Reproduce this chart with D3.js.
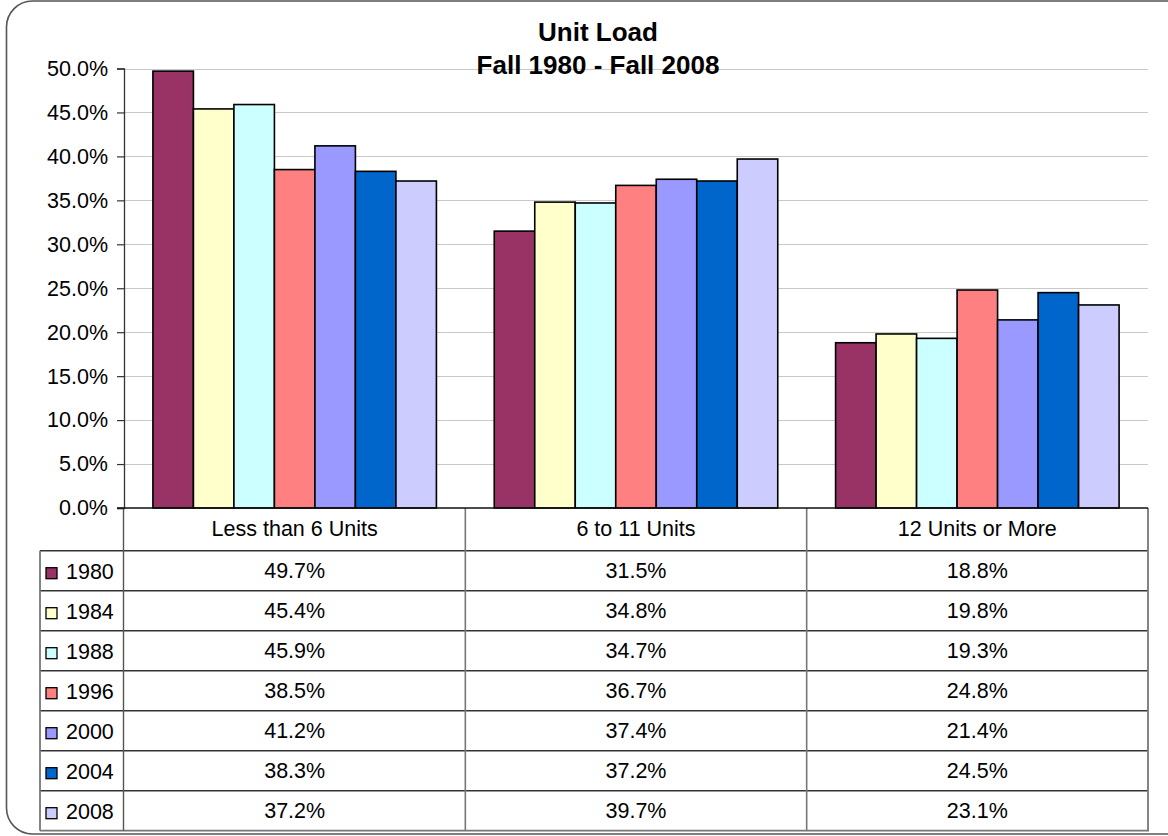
<!DOCTYPE html>
<html>
<head>
<meta charset="utf-8">
<script src="https://cdn.jsdelivr.net/npm/d3@7"></script>
<style>
  html, body { margin: 0; padding: 0; background: #fff; }
  svg { display: block; font-family: "Liberation Sans", Arial, Helvetica, sans-serif; }
</style>
</head>
<body>
<svg id="chart" width="1168" height="836"></svg>
<script>
// ---- data ----
const categories = ["Less than 6 Units", "6 to 11 Units", "12 Units or More"];
const years = ["1980", "1984", "1988", "1996", "2000", "2004", "2008"];
const values1980 = [49.7, 31.5, 18.8];
const values1984 = [45.4, 34.8, 19.8];
const values1988 = [45.9, 34.7, 19.3];
const values1996 = [38.5, 36.7, 24.8];
const values2000 = [41.2, 37.4, 21.4];
const values2004 = [38.3, 37.2, 24.5];
const values2008 = [37.2, 39.7, 23.1];
const yTicks = [0, 5, 10, 15, 20, 25, 30, 35, 40, 45, 50];
const titleLines = ["Unit Load", "Fall 1980 - Fall 2008"];
const colors = ["#993366", "#FFFFCC", "#CCFFFF", "#FF8080", "#9999FF", "#0066CC", "#CCCCFF"];

const seriesValues = [values1980, values1984, values1988, values1996, values2000, values2004, values2008];
const series = years.map((y, i) => ({ year: y, color: colors[i], values: seriesValues[i] }));

// ---- layout ----
const svg = d3.select("#chart");
const plotL = 124, plotR = 1148, plotT = 68.5, plotB = 508;
const tableL = 40, tableB = 830.7, headerB = 550.7;
const fontSize = 21.5;

// outer rounded border
svg.append("rect")
  .attr("x", 6.5).attr("y", 1).attr("width", 1200).attr("height", 833)
  .attr("rx", 26).attr("ry", 26)
  .attr("fill", "#fff").attr("stroke", "#555").attr("stroke-width", 1.6);

const y = d3.scaleLinear().domain([0, 50]).range([plotB, plotT]);
const x0 = d3.scaleBand().domain(categories).range([plotL, plotR]).paddingInner(0).paddingOuter(0);
const x1 = d3.scaleBand().domain(years).range([0, x0.bandwidth()]).paddingInner(0).paddingOuter(0.714);

// gridlines
svg.append("g").selectAll("line").data(yTicks.filter(t => t > 0)).join("line")
  .attr("x1", plotL).attr("x2", plotR)
  .attr("y1", d => Math.round(y(d)) + 0.5).attr("y2", d => Math.round(y(d)) + 0.5)
  .attr("stroke", "#c8c8c8").attr("stroke-width", 1);

// y axis
const yAxis = d3.axisLeft(y).tickValues(yTicks).tickSize(7).tickPadding(9)
  .tickFormat(d => d.toFixed(1) + "%");
const yg = svg.append("g").attr("transform", `translate(${plotL},0)`).call(yAxis);
yg.select(".domain").attr("stroke", "#333").attr("stroke-width", 1.3);
yg.selectAll(".tick line").attr("stroke", "#333").attr("stroke-width", 1.2);
yg.selectAll(".tick text").attr("font-size", fontSize).attr("fill", "#000")
  .attr("font-family", "Liberation Sans, Arial, sans-serif");

// bars
const groups = svg.append("g").selectAll("g").data(categories).join("g")
  .attr("transform", d => `translate(${x0(d)},0)`);
groups.selectAll("rect").data((c, ci) => series.map(s => ({ year: s.year, color: s.color, v: s.values[ci] })))
  .join("rect")
  .attr("x", d => x1(d.year))
  .attr("y", d => y(d.v))
  .attr("width", x1.bandwidth())
  .attr("height", d => plotB - y(d.v))
  .attr("fill", d => d.color)
  .attr("stroke", "#000").attr("stroke-width", 1.6);

// title
svg.append("g").selectAll("text").data(titleLines).join("text")
  .attr("x", 598).attr("y", (d, i) => 41 + i * 33)
  .attr("text-anchor", "middle").attr("font-weight", "bold").attr("font-size", 26)
  .attr("fill", "#000").text(d => d);

// ---- data table ----
const rowY = d3.scaleBand().domain(years).range([headerB, tableB]);
const tg = svg.append("g");

// horizontal row lines
tg.selectAll("line.row").data(years.slice(1)).join("line")
  .attr("x1", tableL).attr("x2", plotR)
  .attr("y1", d => rowY(d)).attr("y2", d => rowY(d))
  .attr("stroke", "#333").attr("stroke-width", 1.4);
tg.append("line").attr("x1", tableL).attr("x2", plotR).attr("y1", headerB).attr("y2", headerB)
  .attr("stroke", "#333").attr("stroke-width", 1.4);
// bottom border
tg.append("line").attr("x1", tableL).attr("x2", plotR + 1).attr("y1", tableB).attr("y2", tableB)
  .attr("stroke", "#777").attr("stroke-width", 1.8);
// left border
tg.append("line").attr("x1", tableL).attr("x2", tableL).attr("y1", headerB).attr("y2", tableB)
  .attr("stroke", "#777").attr("stroke-width", 1.8);
// right border
tg.append("line").attr("x1", plotR).attr("x2", plotR).attr("y1", plotB).attr("y2", tableB)
  .attr("stroke", "#777").attr("stroke-width", 1.8);
// column separators
const sepX = categories.slice(1).map(c => x0(c));
tg.selectAll("line.sep").data(sepX).join("line")
  .attr("x1", d => d).attr("x2", d => d).attr("y1", plotB).attr("y2", tableB)
  .attr("stroke", "#777").attr("stroke-width", 1.6);
tg.append("line").attr("x1", plotL - 0.5).attr("x2", plotL - 0.5).attr("y1", plotB).attr("y2", tableB)
  .attr("stroke", "#555").attr("stroke-width", 1.4);

// x axis line
svg.append("line").attr("x1", plotL - 7).attr("x2", plotR).attr("y1", plotB).attr("y2", plotB)
  .attr("stroke", "#111").attr("stroke-width", 1.6);

// category header
tg.selectAll("text.cat").data(categories).join("text")
  .attr("x", d => x0(d) + x0.bandwidth() / 2)
  .attr("y", (plotB + headerB) / 2 + 7)
  .attr("text-anchor", "middle").attr("font-size", fontSize).attr("fill", "#000")
  .text(d => d);

// legend keys and year labels
const rows = tg.selectAll("g.row").data(series).join("g")
  .attr("transform", d => `translate(0,${rowY(d.year)})`);
rows.append("rect")
  .attr("x", 46).attr("y", rowY.bandwidth() / 2 - 3).attr("width", 11).attr("height", 11)
  .attr("fill", d => d.color).attr("stroke", "#000").attr("stroke-width", 1.3);
rows.append("text")
  .attr("x", 66).attr("y", rowY.bandwidth() / 2 + 8)
  .attr("font-size", fontSize).attr("fill", "#000").text(d => d.year);
rows.selectAll("text.val").data(d => d.values.map((v, i) => ({ v, c: categories[i] })))
  .join("text")
  .attr("x", d => x0(d.c) + x0.bandwidth() / 2)
  .attr("y", rowY.bandwidth() / 2 + 7)
  .attr("text-anchor", "middle").attr("font-size", fontSize).attr("fill", "#000")
  .text(d => d.v.toFixed(1) + "%");
</script>
</body>
</html>
